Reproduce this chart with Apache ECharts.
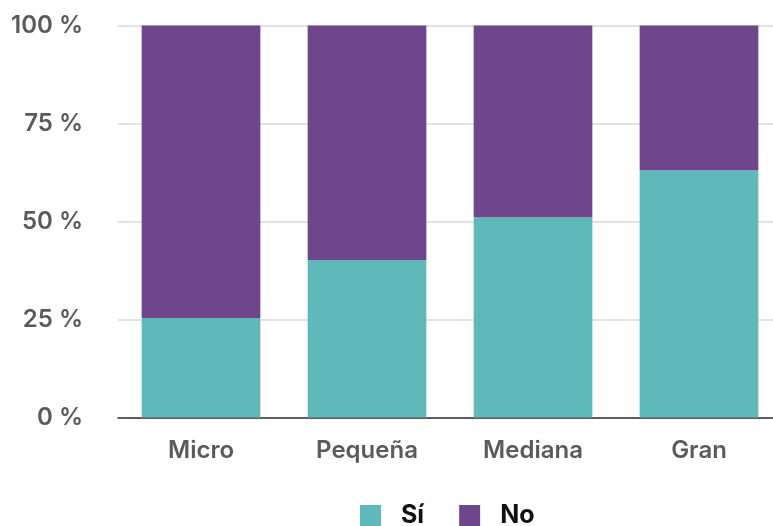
<!DOCTYPE html>
<html>
<head>
<meta charset="utf-8">
<script src="https://cdn.jsdelivr.net/npm/echarts@6/dist/echarts.min.js"></script>
<style>
  html, body { margin: 0; padding: 0; background: #fff; overflow: hidden; }
  #chart { width: 790px; height: 526px; }
</style>
</head>
<body>
<div id="chart"></div>
<script>
// Company size categories
const categories = ['Micro', 'Pequeña', 'Mediana', 'Gran'];
// Share answering "Sí" (%)
const siValues = [25.4, 40.2, 51.1, 63.1];
// Share answering "No" (%)
const noValues = [74.6, 59.8, 48.9, 36.9];
// Y-axis tick values
const yTicks = [0, 25, 50, 75, 100];

const FONT = 'Inter, "Noto Sans", sans-serif';
const chart = echarts.init(document.getElementById('chart'), null, { renderer: 'canvas' });

chart.setOption({
  animation: false,
  textStyle: { fontFamily: FONT },
  grid: { left: 118, top: 25.5, width: 664, height: 392, containLabel: false },
  legend: {
    top: 503,
    left: 360,
    padding: [0, 0, 0, 0],
    itemWidth: 21,
    itemHeight: 21,
    itemGap: 35,
    icon: 'rect',
    textStyle: {
      fontFamily: FONT, fontSize: 25, fontWeight: 700, color: '#111',
      padding: [0, 0, 0, 15], lineHeight: 24
    },
    data: ['Sí', 'No']
  },
  xAxis: {
    type: 'category',
    data: categories,
    axisTick: { show: false },
    axisLine: { lineStyle: { color: '#333', width: 1.5 } },
    axisLabel: { fontFamily: FONT, fontSize: 24, fontWeight: 600, color: '#5a5a5a', margin: 21 }
  },
  yAxis: {
    type: 'value',
    min: yTicks[0],
    max: yTicks[yTicks.length - 1],
    interval: 25,
    axisLine: { show: false },
    axisTick: { show: false },
    splitLine: { lineStyle: { color: '#d9d9d9', width: 1.5 } },
    axisLabel: {
      fontFamily: FONT, fontSize: 24, fontWeight: 600, color: '#5a5a5a', margin: 35,
      formatter: v => v + ' %'
    }
  },
  series: [
    {
      name: 'Sí', type: 'bar', stack: 'total', barWidth: '71.5%',
      itemStyle: { color: '#5fb8b9' },
      data: siValues
    },
    {
      name: 'No', type: 'bar', stack: 'total', barWidth: '71.5%',
      itemStyle: { color: '#6f458c' },
      data: noValues
    }
  ]
});
</script>
</body>
</html>
